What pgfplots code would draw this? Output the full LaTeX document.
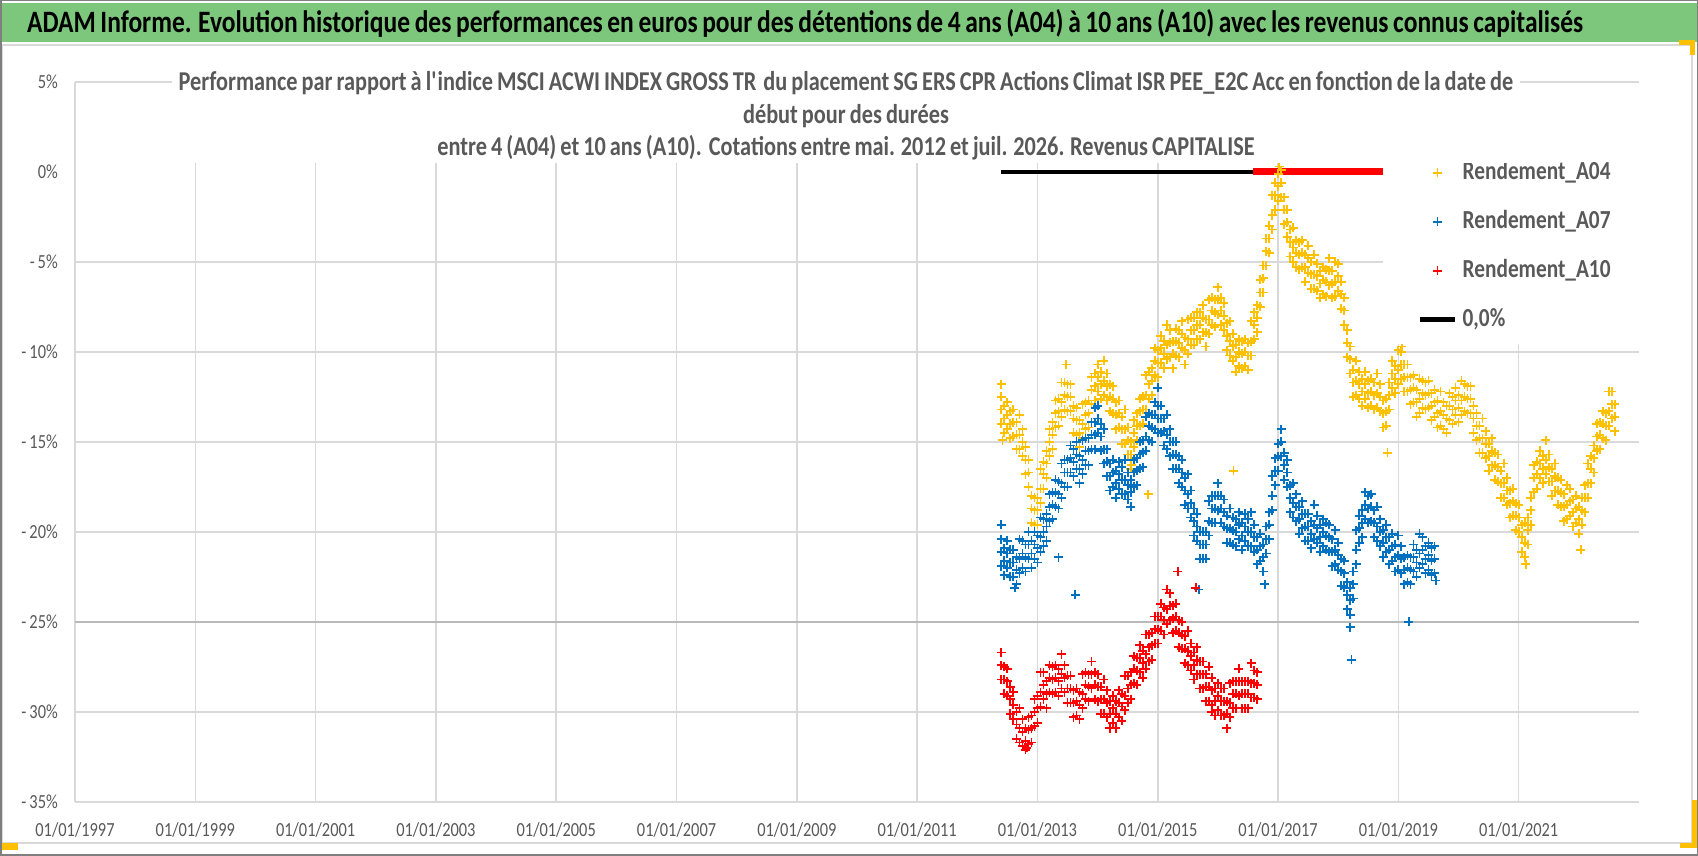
\documentclass[border=0pt]{standalone}
\usepackage{fontspec}
\setmainfont{Carlito}[FakeStretch=0.82, WordSpace=0.8]
\usepackage{pgfplots}
\usepackage{pgfplotstable}
\pgfplotsset{compat=1.18}
\definecolor{cA}{HTML}{FFC000}
\definecolor{cB}{HTML}{0070C0}
\definecolor{cC}{HTML}{FF0000}
\definecolor{gridgray}{HTML}{D9D9D9}
\definecolor{labelgray}{HTML}{595959}
\definecolor{bannergreen}{RGB}{125,199,125}
\definecolor{framegray}{HTML}{D9D9D9}
\definecolor{outergray}{HTML}{7F7F7F}

\pgfplotstableread{
x a b c
12.40 -12.5 -13.2 -14.0
12.45 -13.0 -13.7 -14.5
12.50 -12.8 -13.5 -14.3
12.55 -13.3 -14.0 -14.8
12.60 -13.2 -13.9 -14.7
12.65 -13.9 -14.6 -15.4
12.70 -13.5 -14.6 -15.4
12.75 -14.3 -15.0 -15.8
12.80 -15.3 -16.0 -16.8
12.85 -16.0 -16.7 -17.5
12.90 -18.0 -18.7 -19.5
12.95 -18.1 -18.8 -19.6
13.00 -18.1 -18.8 -19.6
13.05 -16.5 -17.6 -18.4
13.10 -16.1 -16.8 -17.6
13.15 -15.5 -16.2 -17.0
13.20 -14.3 -15.0 -15.8
13.25 -13.9 -14.6 -15.4
13.30 -12.7 -13.4 -14.2
13.35 -12.6 -13.3 -14.1
13.40 -11.7 -12.8 -13.6
13.45 -11.7 -12.4 -13.2
13.50 -11.8 -12.5 -13.3
13.55 -11.8 -12.5 -13.3
13.60 -13.0 -13.7 -14.5
13.65 -13.1 -13.8 -14.6
13.70 -13.8 -14.5 -15.3
13.75 -12.9 -14.0 -14.8
13.80 -12.8 -13.5 -14.3
13.85 -12.7 -13.4 -14.2
13.90 -11.4 -12.1 -12.9
13.95 -11.2 -11.9 -12.7
14.00 -10.7 -11.4 -12.2
14.05 -11.1 -11.8 -12.6
14.10 -10.5 -11.6 -12.4
14.15 -11.2 -11.9 -12.7
14.20 -11.8 -12.5 -13.3
14.25 -11.9 -12.6 -13.4
14.30 -12.8 -13.5 -14.3
14.35 -12.7 -13.4 -14.2
14.40 -13.6 -14.3 -15.1
14.45 -13.2 -14.3 -15.1
14.50 -14.2 -14.9 -15.7
14.55 -15.0 -15.7 -16.5
14.60 -13.8 -14.5 -15.3
14.65 -13.4 -14.1 -14.9
14.70 -12.6 -13.3 -14.1
14.75 -12.5 -13.2 -14.0
14.80 -11.3 -12.4 -13.2
14.85 -11.1 -11.8 -12.6
14.90 -10.9 -11.6 -12.4
14.95 -9.8 -10.5 -11.3
15.00 -9.9 -10.6 -11.4
15.05 -9.1 -9.8 -10.6
15.10 -9.4 -10.1 -10.9
15.15 -8.5 -9.6 -10.4
15.20 -8.8 -9.5 -10.3
15.25 -9.4 -10.1 -10.9
15.30 -8.7 -9.4 -10.2
15.35 -8.8 -9.5 -10.3
15.40 -8.3 -9.0 -9.8
15.45 -9.2 -9.9 -10.7
15.50 -8.2 -9.3 -10.1
15.55 -8.1 -8.8 -9.6
15.60 -8.1 -8.8 -9.6
15.65 -7.8 -8.5 -9.3
15.70 -7.8 -8.5 -9.3
15.75 -7.4 -8.1 -8.9
15.80 -8.2 -8.9 -9.7
15.85 -7.1 -8.2 -9.0
15.90 -7.0 -7.7 -8.5
15.95 -7.1 -7.8 -8.6
16.00 -6.4 -7.1 -7.9
16.05 -7.0 -7.7 -8.5
16.10 -7.3 -8.0 -8.8
16.15 -8.4 -9.1 -9.9
16.20 -8.3 -9.4 -10.2
16.25 -9.0 -9.7 -10.5
16.30 -9.6 -10.3 -11.1
16.35 -9.3 -10.0 -10.8
16.40 -9.4 -10.1 -10.9
16.45 -9.3 -10.0 -10.8
16.50 -9.5 -10.2 -11.0
16.55 -8.3 -9.4 -10.2
16.60 -7.8 -8.5 -9.3
16.65 -7.4 -8.1 -8.9
16.70 -6.0 -6.7 -7.5
16.75 -5.2 -5.9 -6.7
16.80 -3.7 -4.4 -5.2
16.85 -3.0 -3.7 -4.5
16.90 -1.3 -2.4 -3.2
16.95 -0.6 -1.3 -2.1
17.00 -0.1 -0.8 -1.6
17.05 0.1 -0.6 -1.4
17.10 -1.4 -2.1 -2.9
17.15 -2.1 -2.8 -3.6
17.20 -3.2 -3.9 -4.7
17.25 -3.1 -4.2 -5.0
17.30 -3.8 -4.5 -5.3
17.35 -3.9 -4.6 -5.4
17.40 -3.8 -4.5 -5.3
17.45 -4.6 -5.3 -6.1
17.50 -4.1 -4.8 -5.6
17.55 -5.0 -5.7 -6.5
17.60 -4.6 -5.7 -6.5
17.65 -5.1 -5.8 -6.6
17.70 -5.5 -6.2 -7.0
17.75 -5.3 -6.0 -6.8
17.80 -5.4 -6.1 -6.9
17.85 -4.8 -5.5 -6.3
17.90 -5.5 -6.2 -7.0
17.95 -5.0 -6.1 -6.9
18.00 -5.1 -5.8 -6.6
18.05 -6.1 -6.8 -7.6
18.10 -7.0 -7.7 -8.5
18.15 -8.8 -9.5 -10.3
18.20 -9.7 -10.4 -11.2
18.25 -11.0 -11.7 -12.5
18.30 -10.5 -11.6 -12.4
18.35 -11.1 -11.8 -12.6
18.40 -11.5 -12.2 -13.0
18.45 -11.1 -11.8 -12.6
18.50 -11.6 -12.3 -13.1
18.55 -11.5 -12.2 -13.0
18.60 -11.7 -12.4 -13.2
18.65 -11.2 -12.3 -13.1
18.70 -11.8 -12.5 -13.3
18.75 -12.7 -13.4 -14.2
18.80 -12.6 -13.3 -14.1
18.85 -11.7 -12.4 -13.2
18.90 -10.5 -11.2 -12.0
18.95 -10.8 -11.5 -12.3
19.00 -9.9 -11.0 -11.8
19.05 -10.0 -10.7 -11.5
19.10 -10.7 -11.4 -12.2
19.15 -10.7 -11.4 -12.2
19.20 -11.4 -12.1 -12.9
19.25 -11.3 -12.0 -12.8
19.30 -12.1 -12.8 -13.6
19.35 -11.5 -12.6 -13.4
19.40 -11.6 -12.3 -13.1
19.45 -11.7 -12.4 -13.2
19.50 -11.6 -12.3 -13.1
19.55 -12.3 -13.0 -13.8
19.60 -12.1 -12.8 -13.6
19.65 -12.7 -13.4 -14.2
19.70 -12.2 -13.3 -14.1
19.75 -12.8 -13.5 -14.3
19.80 -13.0 -13.7 -14.5
19.85 -12.3 -13.0 -13.8
19.90 -12.5 -13.2 -14.0
19.95 -12.0 -12.7 -13.5
20.00 -12.4 -13.1 -13.9
20.05 -11.6 -12.7 -13.5
20.10 -11.8 -12.5 -13.3
20.15 -11.9 -12.6 -13.4
20.20 -11.9 -12.6 -13.4
20.25 -13.0 -13.7 -14.5
20.30 -13.4 -14.1 -14.9
20.35 -14.1 -14.8 -15.6
20.40 -13.7 -14.8 -15.6
20.45 -14.4 -15.1 -15.9
20.50 -15.1 -15.8 -16.6
20.55 -14.8 -15.5 -16.3
20.60 -15.6 -16.3 -17.1
20.65 -15.7 -16.4 -17.2
20.70 -16.6 -17.3 -18.1
20.75 -16.2 -17.3 -18.1
20.80 -17.0 -17.7 -18.5
20.85 -17.7 -18.4 -19.2
20.90 -17.6 -18.3 -19.1
20.95 -18.4 -19.1 -19.9
21.00 -18.5 -19.2 -20.0
21.05 -19.6 -20.3 -21.1
21.10 -19.5 -20.6 -21.4
21.15 -19.2 -19.9 -20.7
21.20 -18.1 -18.8 -19.6
21.25 -16.3 -17.0 -17.8
21.30 -16.1 -16.8 -17.6
21.35 -15.5 -16.2 -17.0
21.40 -15.8 -16.5 -17.3
21.45 -14.9 -16.0 -16.8
21.50 -15.7 -16.4 -17.2
21.55 -16.5 -17.2 -18.0
21.60 -16.2 -16.9 -17.7
21.65 -17.0 -17.7 -18.5
21.70 -17.1 -17.8 -18.6
21.75 -17.9 -18.6 -19.4
21.80 -17.4 -18.5 -19.3
21.85 -17.6 -18.3 -19.1
21.90 -18.2 -18.9 -19.7
21.95 -18.0 -18.7 -19.5
22.00 -18.6 -19.3 -20.1
22.05 -18.1 -18.8 -19.6
22.10 -17.4 -18.1 -18.9
22.15 -16.2 -17.3 -18.1
22.20 -15.8 -16.5 -17.3
22.25 -15.2 -15.9 -16.7
22.30 -14.0 -14.7 -15.5
22.35 -13.9 -14.6 -15.4
22.40 -13.3 -14.0 -14.8
22.45 -13.4 -14.1 -14.9
22.50 -12.2 -13.3 -14.1
22.55 -12.2 -12.9 -13.7
22.60 -12.9 -13.6 -14.4
}\tabA

\pgfplotstableread{
x a b c
12.40 -20.4 -21.1 -21.9
12.45 -20.9 -21.6 -22.4
12.50 -20.5 -21.2 -22.0
12.55 -21.0 -21.7 -22.5
12.60 -21.0 -21.7 -22.5
12.65 -21.4 -22.1 -22.9
12.70 -20.4 -21.5 -22.3
12.75 -20.5 -21.2 -22.0
12.80 -20.7 -21.4 -22.2
12.85 -20.0 -20.7 -21.5
12.90 -20.5 -21.2 -22.0
12.95 -20.0 -20.7 -21.5
13.00 -20.2 -20.9 -21.7
13.05 -19.2 -20.3 -21.1
13.10 -19.3 -20.0 -20.8
13.15 -19.0 -19.7 -20.5
13.20 -17.9 -18.6 -19.4
13.25 -17.8 -18.5 -19.3
13.30 -17.1 -17.8 -18.6
13.35 -17.2 -17.9 -18.7
13.40 -16.2 -17.3 -18.1
13.45 -16.0 -16.7 -17.5
13.50 -16.0 -16.7 -17.5
13.55 -15.2 -15.9 -16.7
13.60 -15.4 -16.1 -16.9
13.65 -15.0 -15.7 -16.5
13.70 -15.8 -16.5 -17.3
13.75 -14.9 -16.0 -16.8
13.80 -14.8 -15.5 -16.3
13.85 -14.8 -15.5 -16.3
13.90 -13.9 -14.6 -15.4
13.95 -13.9 -14.6 -15.4
14.00 -13.0 -13.7 -14.5
14.05 -14.0 -14.7 -15.5
14.10 -14.3 -15.4 -16.2
14.15 -15.4 -16.1 -16.9
14.20 -16.2 -16.9 -17.7
14.25 -16.0 -16.7 -17.5
14.30 -16.6 -17.3 -18.1
14.35 -16.1 -16.8 -17.6
14.40 -16.4 -17.1 -17.9
14.45 -16.0 -17.1 -17.9
14.50 -16.7 -17.4 -18.2
14.55 -17.1 -17.8 -18.6
14.60 -16.0 -16.7 -17.5
14.65 -15.9 -16.6 -17.4
14.70 -15.0 -15.7 -16.5
14.75 -14.9 -15.6 -16.4
14.80 -13.6 -14.7 -15.5
14.85 -13.4 -14.1 -14.9
14.90 -13.5 -14.2 -15.0
14.95 -12.8 -13.5 -14.3
15.00 -13.0 -13.7 -14.5
15.05 -13.0 -13.7 -14.5
15.10 -13.7 -14.4 -15.2
15.15 -13.5 -14.6 -15.4
15.20 -14.3 -15.0 -15.8
15.25 -15.0 -15.7 -16.5
15.30 -15.0 -15.7 -16.5
15.35 -15.8 -16.5 -17.3
15.40 -16.0 -16.7 -17.5
15.45 -17.0 -17.7 -18.5
15.50 -16.8 -17.9 -18.7
15.55 -17.7 -18.4 -19.2
15.60 -18.7 -19.4 -20.2
15.65 -19.0 -19.7 -20.5
15.70 -20.0 -20.7 -21.5
15.75 -20.0 -20.7 -21.5
15.80 -20.0 -20.7 -21.5
15.85 -18.3 -19.4 -20.2
15.90 -18.0 -18.7 -19.5
15.95 -18.0 -18.7 -19.5
16.00 -17.3 -18.0 -18.8
16.05 -18.0 -18.7 -19.5
16.10 -18.2 -18.9 -19.7
16.15 -19.1 -19.8 -20.6
16.20 -18.7 -19.8 -20.6
16.25 -19.2 -19.9 -20.7
16.30 -19.3 -20.0 -20.8
16.35 -18.9 -19.6 -20.4
16.40 -19.5 -20.2 -21.0
16.45 -19.0 -19.7 -20.5
16.50 -19.3 -20.0 -20.8
16.55 -18.9 -20.0 -20.8
16.60 -19.6 -20.3 -21.1
16.65 -20.3 -21.0 -21.8
16.70 -20.1 -20.8 -21.6
16.75 -20.7 -21.4 -22.2
16.80 -19.7 -20.4 -21.2
16.85 -18.9 -19.6 -20.4
16.90 -16.9 -18.0 -18.8
16.95 -15.9 -16.6 -17.4
17.00 -15.1 -15.8 -16.6
17.05 -14.3 -15.0 -15.8
17.10 -15.6 -16.3 -17.1
17.15 -16.0 -16.7 -17.5
17.20 -17.4 -18.1 -18.9
17.25 -17.3 -18.4 -19.2
17.30 -17.9 -18.6 -19.4
17.35 -18.6 -19.3 -20.1
17.40 -18.3 -19.0 -19.8
17.45 -19.0 -19.7 -20.5
17.50 -19.0 -19.7 -20.5
17.55 -19.4 -20.1 -20.9
17.60 -18.5 -19.6 -20.4
17.65 -19.1 -19.8 -20.6
17.70 -19.6 -20.3 -21.1
17.75 -19.3 -20.0 -20.8
17.80 -19.5 -20.2 -21.0
17.85 -19.6 -20.3 -21.1
17.90 -20.4 -21.1 -21.9
17.95 -19.9 -21.0 -21.8
18.00 -20.6 -21.3 -22.1
18.05 -21.5 -22.2 -23.0
18.10 -21.6 -22.3 -23.1
18.15 -22.8 -23.5 -24.3
18.20 -23.1 -23.8 -24.6
18.25 -22.2 -22.9 -23.7
18.30 -19.9 -21.0 -21.8
18.35 -19.1 -19.8 -20.6
18.40 -18.8 -19.5 -20.3
18.45 -17.8 -18.5 -19.3
18.50 -18.0 -18.7 -19.5
18.55 -17.9 -18.6 -19.4
18.60 -18.8 -19.5 -20.3
18.65 -18.6 -19.7 -20.5
18.70 -19.3 -20.0 -20.8
18.75 -19.9 -20.6 -21.4
18.80 -19.6 -20.3 -21.1
18.85 -20.3 -21.0 -21.8
18.90 -20.1 -20.8 -21.6
18.95 -20.7 -21.4 -22.2
19.00 -20.2 -21.3 -22.1
19.05 -20.8 -21.5 -22.3
19.10 -21.4 -22.1 -22.9
19.15 -21.3 -22.0 -22.8
19.20 -21.4 -22.1 -22.9
19.25 -20.7 -21.4 -22.2
19.30 -21.0 -21.7 -22.5
19.35 -20.1 -21.2 -22.0
19.40 -20.3 -21.0 -21.8
19.45 -20.8 -21.5 -22.3
19.50 -20.6 -21.3 -22.1
19.55 -20.9 -21.6 -22.4
19.60 -20.8 -21.5 -22.3
}\tabB

\pgfplotstableread{
x a b c
12.40 -26.7 -27.4 -28.2
12.45 -27.5 -28.2 -29.0
12.50 -27.6 -28.3 -29.1
12.55 -28.6 -29.3 -30.1
12.60 -28.9 -29.6 -30.4
12.65 -30.0 -30.7 -31.5
12.70 -29.8 -30.9 -31.7
12.75 -30.4 -31.1 -31.9
12.80 -30.9 -31.6 -32.1
12.85 -30.3 -31.0 -31.8
12.90 -30.2 -30.9 -31.7
12.95 -29.3 -30.0 -30.8
13.00 -29.1 -29.8 -30.6
13.05 -27.8 -28.9 -29.7
13.10 -27.8 -28.5 -29.3
13.15 -28.3 -29.0 -29.8
13.20 -27.4 -28.1 -28.9
13.25 -27.5 -28.2 -29.0
13.30 -27.4 -28.1 -28.9
13.35 -27.6 -28.3 -29.1
13.40 -26.8 -27.9 -28.7
13.45 -27.4 -28.1 -28.9
13.50 -28.0 -28.7 -29.5
13.55 -28.0 -28.7 -29.5
13.60 -28.8 -29.5 -30.3
13.65 -28.7 -29.4 -30.2
13.70 -28.9 -29.6 -30.4
13.75 -27.9 -29.0 -29.8
13.80 -27.8 -28.5 -29.3
13.85 -27.9 -28.6 -29.4
13.90 -27.2 -27.9 -28.7
13.95 -27.8 -28.5 -29.3
14.00 -27.9 -28.6 -29.4
14.05 -28.6 -29.3 -30.1
14.10 -28.2 -29.3 -30.1
14.15 -28.8 -29.5 -30.3
14.20 -29.4 -30.1 -30.9
14.25 -29.1 -29.8 -30.6
14.30 -29.4 -30.1 -30.9
14.35 -28.8 -29.5 -30.3
14.40 -29.0 -29.7 -30.5
14.45 -28.0 -29.1 -29.9
14.50 -28.0 -28.7 -29.5
14.55 -27.8 -28.5 -29.3
14.60 -26.9 -27.6 -28.4
14.65 -27.0 -27.7 -28.5
14.70 -26.3 -27.0 -27.8
14.75 -26.6 -27.3 -28.1
14.80 -25.7 -26.8 -27.6
14.85 -25.7 -26.4 -27.2
14.90 -25.6 -26.3 -27.1
14.95 -24.7 -25.4 -26.2
15.00 -24.7 -25.4 -26.2
15.05 -24.0 -24.7 -25.5
15.10 -24.2 -24.9 -25.7
15.15 -23.2 -24.3 -25.1
15.20 -23.4 -24.1 -24.9
15.25 -24.1 -24.8 -25.6
15.30 -24.0 -24.7 -25.5
15.35 -24.9 -25.6 -26.4
15.40 -25.0 -25.7 -26.5
15.45 -25.8 -26.5 -27.3
15.50 -25.5 -26.6 -27.4
15.55 -26.2 -26.9 -27.7
15.60 -26.7 -27.4 -28.2
15.65 -26.4 -27.1 -27.9
15.70 -27.2 -27.9 -28.7
15.75 -27.2 -27.9 -28.7
15.80 -27.9 -28.6 -29.4
15.85 -27.5 -28.6 -29.4
15.90 -28.1 -28.8 -29.6
15.95 -28.7 -29.4 -30.2
16.00 -28.4 -29.1 -29.9
16.05 -28.7 -29.4 -30.2
16.10 -28.7 -29.4 -30.2
16.15 -29.4 -30.1 -30.9
16.20 -28.4 -29.5 -30.3
16.25 -28.3 -29.0 -29.8
16.30 -28.3 -29.0 -29.8
16.35 -27.6 -28.3 -29.1
16.40 -28.3 -29.0 -29.8
16.45 -28.3 -29.0 -29.8
16.50 -28.3 -29.0 -29.8
16.55 -27.3 -28.4 -29.2
16.60 -27.7 -28.4 -29.2
16.65 -27.8 -28.5 -29.3
}\tabC

\pgfplotsset{
  sc/.style={only marks, mark=+, color=#1, mark size=4.5pt, mark options={line width=1.8pt}},
}

\begin{document}
\begin{tikzpicture}[x=1pt,y=1pt]
\useasboundingbox (0,0) rectangle (1698,856);
\fill[white] (0,0) rectangle (1698,856);
\draw[framegray, line width=1.5pt] (2,13) rectangle (1692,811);
\fill[bannergreen] (1,814) rectangle (1697,853);
\node[anchor=base west, inner sep=0pt, font=\fontsize{31.1pt}{36pt}\selectfont\bfseries, text=black] at (27,823)
  {ADAM Informe. Evolution historique des performances en euros pour des détentions de 4 ans (A04) à 10 ans (A10) avec les revenus connus capitalisés};
\begin{axis}[
  at={(75pt,54pt)}, anchor=south west, scale only axis,
  width=1564pt, height=720pt,
  xmin=-3, xmax=23, ymin=-35, ymax=5,
  xtick={-3,-1,...,21},
  xticklabels={01/01/1997,01/01/1999,01/01/2001,01/01/2003,01/01/2005,01/01/2007,01/01/2009,01/01/2011,01/01/2013,01/01/2015,01/01/2017,01/01/2019,01/01/2021},
  ytick={-35,-30,...,5},
  yticklabels={- 35\%,- 30\%,- 25\%,- 20\%,- 15\%,- 10\%,- 5\%,0\%,5\%},
  axis line style={draw=none},
  major tick length=0pt,
  xmajorgrids=true, ymajorgrids=false,
  extra y ticks={-35,-30,-20,-15,-10,-5,5},
  extra y tick labels={},
  extra y tick style={grid=major},
  major grid style={draw=gridgray, line width=1.5pt},
  tick label style={font=\fontsize{20pt}{24pt}\selectfont, text=labelgray},
  xticklabel style={anchor=north, inner sep=0pt, yshift=-20pt},
  yticklabel style={anchor=east, inner sep=0pt, xshift=-17pt},
  legend style={at={(0.8363,0.9083)}, anchor=north west, draw=none, fill=white,
    inner xsep=34pt, inner ysep=12pt,
    font=\fontsize{26pt}{30pt}\selectfont\bfseries, text=labelgray,
    row sep=24pt,
    nodes={inner sep=0pt, text height=19pt, text depth=6pt, text=labelgray},
    /tikz/every odd column/.append style={column sep=5pt}},
  legend cell align=left,
  legend image code/.code={\draw[mark repeat=2,mark phase=2,#1] plot coordinates {(0pt,0pt) (17.5pt,0pt) (35pt,0pt)};},
]
\addplot[forget plot, draw=gray!55, line width=1.5pt] coordinates {(-3,-25) (23,-25)};
\addplot[forget plot, black, line width=4.5pt] coordinates {(12.40,0) (16.58,0)};
\addplot[forget plot, cC, line width=7pt] coordinates {(16.58,0) (18.76,0)};

\addplot[sc=cA] table[x=x,y=a]{\tabA};
\addlegendentry{Rendement\_A04}
\addplot[sc=cA, forget plot] table[x=x,y=b]{\tabA};
\addplot[sc=cA, forget plot] table[x=x,y=c]{\tabA};
\addplot[sc=cA, forget plot] coordinates {(12.40,-11.8) (13.48,-10.7) (14.56,-16.3) (17.02,0.3) (18.82,-15.6) (19.06,-9.7) (21.12,-21.8) (22.03,-21.0) (16.26,-16.6) (14.84,-17.9) (12.42,-14.9)};

\addplot[sc=cB] table[x=x,y=a]{\tabB};
\addlegendentry{Rendement\_A07}
\addplot[sc=cB, forget plot] table[x=x,y=b]{\tabB};
\addplot[sc=cB, forget plot] table[x=x,y=c]{\tabB};
\addplot[sc=cB, forget plot] coordinates {(12.40,-19.6) (12.62,-23.1) (13.35,-21.4) (15.00,-12.0) (15.68,-23.2) (16.78,-22.9) (18.20,-25.3) (18.22,-27.1) (19.17,-25.0) (19.62,-22.7) (13.63,-23.5) (13.96,-13.1)};

\addplot[sc=cC] table[x=x,y=a]{\tabC};
\addlegendentry{Rendement\_A10}
\addplot[sc=cC, forget plot] table[x=x,y=b]{\tabC};
\addplot[sc=cC, forget plot] table[x=x,y=c]{\tabC};
\addplot[sc=cC, forget plot] coordinates {(15.33,-22.2) (15.63,-23.1) (15.90,-30.0) (12.82,-32.0)};

\addlegendimage{black, line width=5.5pt}
\addlegendentry{0,0\%}
\end{axis}
\node[fill=white, minimum width=1348pt, align=center, minimum height=94pt, inner xsep=0pt, inner ysep=0pt,
  font=\fontsize{27.2pt}{32.5pt}\selectfont\bfseries, text=labelgray] at (846,740)
  {Performance par rapport à l\textquotesingle indice MSCI ACWI INDEX GROSS TR\hspace{7pt}du placement SG ERS CPR Actions Climat ISR PEE\_E2C Acc en fonction de la date de\\début pour des durées\\entre 4 (A04) et 10 ans (A10).\hspace{7pt}Cotations entre mai. 2012 et juil. 2026. Revenus CAPITALISE};
\fill[cA] (0,6) rectangle (18,13);
\fill[cA] (1679,811) rectangle (1695,816);
\fill[cA] (1690,801) rectangle (1695,816);
\fill[cA] (1692,8) rectangle (1697,56);
\fill[cA] (1680,8) rectangle (1697,13);
\draw[outergray, line width=1.5pt] (0.75,0.75) rectangle (1697.25,855.25);
\end{tikzpicture}
\end{document}
